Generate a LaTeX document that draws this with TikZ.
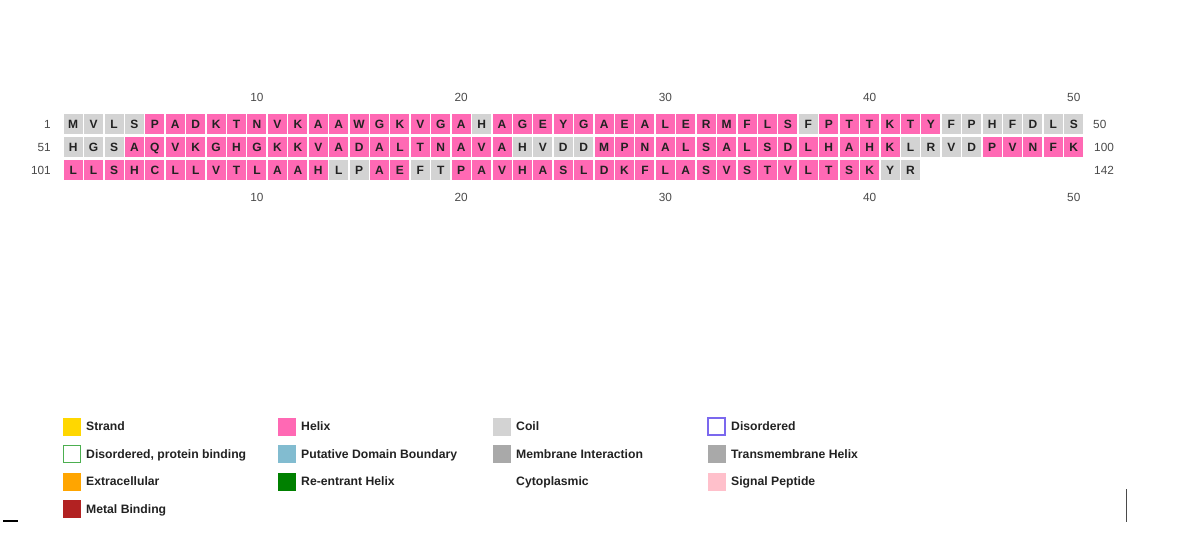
\documentclass[tikz,border=0pt]{standalone}
\usepackage{fontspec}
\setmainfont{Liberation Sans}
\definecolor{helixpink}{HTML}{FF69B4}
\definecolor{coilgray}{HTML}{D3D3D3}
\definecolor{numgray}{HTML}{4A4A4A}
\definecolor{legtext}{HTML}{222222}
\definecolor{strandc}{HTML}{FFD700}
\definecolor{boundc}{HTML}{82BCD0}
\definecolor{memc}{HTML}{A9A9A9}
\definecolor{extrac}{HTML}{FFA500}
\definecolor{reentc}{HTML}{008000}
\definecolor{sigc}{HTML}{FFC0CB}
\definecolor{metalc}{HTML}{B22222}
\definecolor{disc}{HTML}{7B68EE}
\definecolor{disbc}{HTML}{4CAF50}
\begin{document}
\begin{tikzpicture}[x=1pt,y=-1pt,
  res/.style={minimum width=19pt, minimum height=20.5pt, inner sep=0pt, text=legtext,
    text height=8.6pt, text depth=0pt, font=\bfseries\fontsize{12}{12}\selectfont},
  resh/.style={res, fill=helixpink},
  resc/.style={res, fill=coilgray},
  num/.style={inner sep=0pt, text=numgray, text height=8.4pt, text depth=0pt, font=\fontsize{11.8}{12}\selectfont},
  legbox/.style={minimum width=18pt, minimum height=18pt, inner sep=0pt},
  legtxt/.style={anchor=west, inner sep=0pt, text=legtext, text height=8.8pt, text depth=0pt, font=\bfseries\fontsize{12.2}{12}\selectfont}
]
\useasboundingbox[fill=white] (0,0) rectangle (1177,552);

% row 1
\foreach \ch/\t [count=\i] in {M/c,V/c,L/c,S/c,P/h,A/h,D/h,K/h,T/h,N/h,V/h,K/h,A/h,A/h,W/h,G/h,K/h,V/h,G/h,A/h,H/c,A/h,G/h,E/h,Y/h,G/h,A/h,E/h,A/h,L/h,E/h,R/h,M/h,F/h,L/h,S/h,F/c,P/h,T/h,T/h,K/h,T/h,Y/h,F/c,P/c,H/c,F/c,D/c,L/c,S/c}
  \node[res\t] (ra\i) at ({52.79+20.42*\i},124) {\ch};
% row 2
\foreach \ch/\t [count=\i] in {H/c,G/c,S/c,A/h,Q/h,V/h,K/h,G/h,H/h,G/h,K/h,K/h,V/h,A/h,D/h,A/h,L/h,T/h,N/h,A/h,V/h,A/h,H/c,V/c,D/c,D/c,M/h,P/h,N/h,A/h,L/h,S/h,A/h,L/h,S/h,D/h,L/h,H/h,A/h,H/h,K/h,L/c,R/c,V/c,D/c,P/h,V/h,N/h,F/h,K/h}
  \node[res\t] (rb\i) at ({52.79+20.42*\i},147) {\ch};
% row 3
\foreach \ch/\t [count=\i] in {L/h,L/h,S/h,H/h,C/h,L/h,L/h,V/h,T/h,L/h,A/h,A/h,H/h,L/c,P/c,A/h,E/h,F/c,T/c,P/h,A/h,V/h,H/h,A/h,S/h,L/h,D/h,K/h,F/h,L/h,A/h,S/h,V/h,S/h,T/h,V/h,L/h,T/h,S/h,K/h,Y/c,R/c}
  \node[res\t] (rc\i) at ({52.79+20.42*\i},170) {\ch};

% position numbers
\foreach \n in {10,20,30,40,50} {
  \node[num] (top\n) at ({52.79+20.42*\n},97.5) {\n};
  \node[num] (bot\n) at ({52.79+20.42*\n},197.5) {\n};
}
\node[num, anchor=east] (la) at (51,124) {1};
\node[num, anchor=east] (lb) at (51,147) {51};
\node[num, anchor=east] (lc) at (51,170) {101};
\node[num, anchor=west] (rra) at (1093,124) {50};
\node[num, anchor=west] (rrb) at (1094,147) {100};
\node[num, anchor=west] (rrc) at (1094,170) {142};

% legend column 1
\node[legbox, fill=strandc] (k1) at (72,426.5) {};
\node[legtxt] (t1) at (86,426.5) {Strand};
\node[legbox, fill=white, draw=disbc, line width=1pt, minimum width=17pt, minimum height=17pt] (k2) at (72,454) {};
\node[legtxt] (t2) at (86,454) {Disordered, protein binding};
\node[legbox, fill=extrac] (k3) at (72,481.5) {};
\node[legtxt] (t3) at (86,481.5) {Extracellular};
\node[legbox, fill=metalc] (k4) at (72,509) {};
\node[legtxt] (t4) at (86,509) {Metal Binding};
% legend column 2
\node[legbox, fill=helixpink] (k5) at (287,426.5) {};
\node[legtxt] (t5) at (301,426.5) {Helix};
\node[legbox, fill=boundc] (k6) at (287,454) {};
\node[legtxt] (t6) at (301,454) {Putative Domain Boundary};
\node[legbox, fill=reentc] (k7) at (287,481.5) {};
\node[legtxt] (t7) at (301,481.5) {Re-entrant Helix};
% legend column 3
\node[legbox, fill=coilgray] (k8) at (502,426.5) {};
\node[legtxt] (t8) at (516,426.5) {Coil};
\node[legbox, fill=memc] (k9) at (502,454) {};
\node[legtxt] (t9) at (516,454) {Membrane Interaction};
\node[legtxt] (t10) at (516,481.5) {Cytoplasmic};
% legend column 4
\node[legbox, fill=white, draw=disc, line width=1.5pt, minimum width=17pt, minimum height=17pt] (k11) at (716.5,426.5) {};
\node[legtxt] (t11) at (731,426.5) {Disordered};
\node[legbox, fill=memc] (k12) at (716.5,454) {};
\node[legtxt] (t12) at (731,454) {Transmembrane Helix};
\node[legbox, fill=sigc] (k13) at (716.5,481.5) {};
\node[legtxt] (t13) at (731,481.5) {Signal Peptide};

% stray marks
\draw[line width=1.5pt, black] (3,521) -- (18,521);
\draw[line width=1.5pt, numgray] (1126.5,489) -- (1126.5,522);
\end{tikzpicture}
\end{document}
